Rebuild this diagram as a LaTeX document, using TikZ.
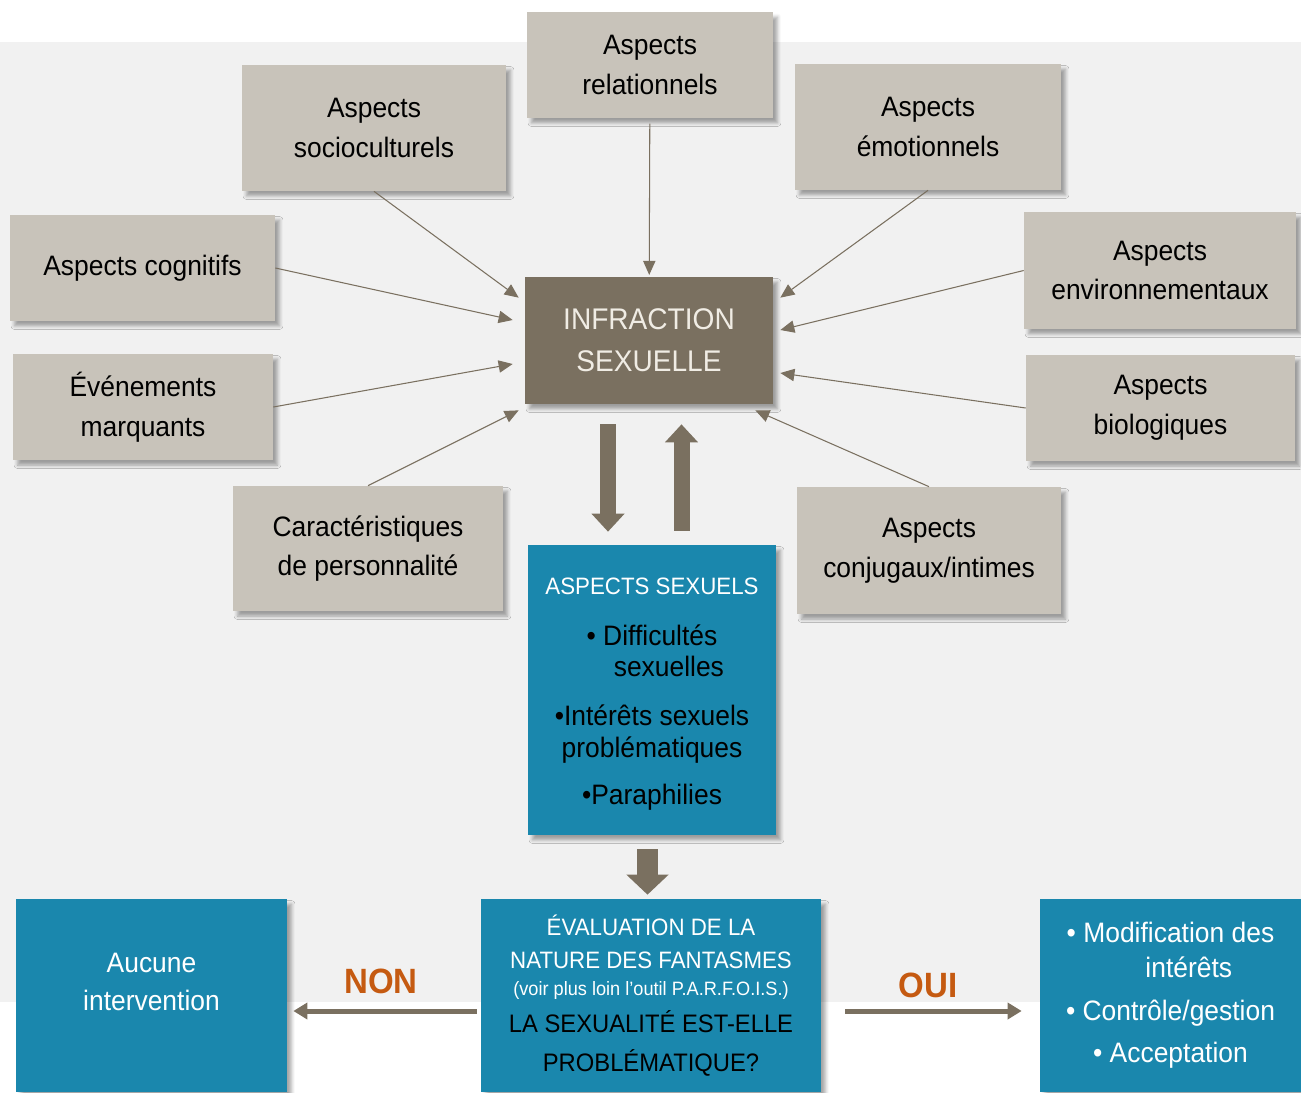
\documentclass[tikz,border=0pt]{standalone}
\usepackage{fontspec}
\setmainfont{Liberation Sans}[FakeStretch=0.94]
\usetikzlibrary{arrows.meta,calc,shadows.blur}

\definecolor{boxtan}{RGB}{200,195,186}
\definecolor{infbrown}{RGB}{122,112,96}
\definecolor{sexblue}{RGB}{26,135,173}
\definecolor{bggrey}{RGB}{241,241,241}
\definecolor{ouinon}{RGB}{197,90,17}
\definecolor{inftext}{RGB}{240,236,228}

\begin{document}
\begin{tikzpicture}[x=0.02cm,y=-0.02cm,
	boxshadow/.style={blur shadow={shadow xshift=0.09cm,shadow yshift=-0.1cm,shadow blur radius=0.07cm,shadow opacity=35}},
	aspect/.style={shape=rectangle,fill=boxtan,inner sep=0pt,align=center,boxshadow,
		font=\fontsize{16}{22.7}\selectfont},
	bluebox/.style={shape=rectangle,fill=sexblue,inner sep=0pt,align=center,boxshadow},
	feeder/.style={draw=infbrown,line width=0.6pt,-{Triangle[length=8pt,width=7pt]}},
	bigarrow/.style={draw=infbrown,line width=0.32cm,-{Triangle[length=0.36cm,width=0.64cm]}},
	sidearrow/.style={draw=infbrown,line width=0.1cm,-{Triangle[length=0.28cm,width=0.32cm]}},
	answer/.style={text=ouinon,font=\fontsize{20}{24}\selectfont\bfseries}
]
	\useasboundingbox (0,0) rectangle (1301,1092);
	\fill[bggrey] (0,42) rectangle (1301,1002);

	% les aspects autour de l'infraction
	\node[aspect,minimum width=4.92cm,minimum height=2.12cm] (rel) at (650,65) {Aspects\\relationnels};
	\node[aspect,minimum width=5.28cm,minimum height=2.52cm] (soc) at (374,128) {Aspects\\socioculturels};
	\node[aspect,minimum width=5.32cm,minimum height=2.52cm] (emo) at (928,127) {Aspects\\émotionnels};
	\node[aspect,minimum width=5.30cm,minimum height=2.12cm] (cog) at (142.5,268) {Aspects cognitifs};
	\node[aspect,minimum width=5.44cm,minimum height=2.34cm] (env) at (1160,270.5) {Aspects\\environnementaux};
	\node[aspect,minimum width=5.20cm,minimum height=2.12cm] (eve) at (143,407) {Événements\\marquants};
	\node[aspect,minimum width=5.38cm,minimum height=2.12cm] (bio) at (1160.5,408) {Aspects\\biologiques};
	\node[aspect,minimum width=5.40cm,minimum height=2.50cm] (car) at (368,548.5) {Caractéristiques\\de personnalité};
	\node[aspect,minimum width=5.28cm,minimum height=2.54cm] (conj) at (929,550.5) {Aspects\\conjugaux/intimes};

	\node[shape=rectangle,fill=infbrown,inner sep=0pt,align=center,boxshadow,text=inftext,
		font=\fontsize{17}{23.8}\selectfont,minimum width=4.96cm,minimum height=2.54cm] (inf) at (649,340.5) {INFRACTION\\SEXUELLE};

	\node[bluebox,minimum width=4.96cm,minimum height=5.80cm,font=\fontsize{16}{18}\selectfont] (sex) at (652,690)
		{\rule{0pt}{14pt}{\color{white}\fontsize{13.5}{16}\selectfont ASPECTS SEXUELS}\\[10.9pt]
		 \textbullet\ Difficultés\\ \hspace*{1.2em}sexuelles\\[9.8pt]
		 \textbullet Intérêts sexuels\\ problématiques\\[8.6pt]
		 \textbullet Paraphilies};

	\node[bluebox,minimum width=6.80cm,minimum height=3.86cm,font=\fontsize{14}{16}\selectfont] (eval) at (651,995.5)
		{{\color{white}\fontsize{13.5}{16}\selectfont ÉVALUATION DE LA}\\[2.7pt]
		 {\color{white}\fontsize{13.5}{16}\selectfont NATURE DES FANTASMES}\\[-0.7pt]
		 {\color{white}\fontsize{11}{13}\selectfont (voir plus loin l’outil P.A.R.F.O.I.S.)}\\[5pt]
		 {\fontsize{14.4}{16}\selectfont LA SEXUALITÉ EST-ELLE}\\[6.1pt]
		 {\fontsize{14.4}{16}\selectfont PROBLÉMATIQUE?}};

	\node[bluebox,minimum width=5.42cm,minimum height=3.86cm,text=white,font=\fontsize{16}{21.5}\selectfont] (auc) at (151.5,995.5)
		{Aucune\\intervention\\[-6pt]\mbox{}};

	\node[bluebox,minimum width=5.22cm,minimum height=3.86cm,text=white,font=\fontsize{16}{19.8}\selectfont] (mod) at (1170.5,995.5)
		{\textbullet\ Modification des\\ \hspace*{1.3em}intérêts\\[4.4pt]
		 \textbullet\ Contrôle/gestion\\[4.4pt]
		 \textbullet\ Acceptation};

	% extrémités des flèches fines
	\coordinate (tsoc) at ($(inf.north west)+(-6,21)$);
	\coordinate (tcog) at ($(inf.west)+(-12,-20.5)$);
	\coordinate (teve) at ($(inf.west)+(-12,23.5)$);
	\coordinate (tcar) at ($(inf.south west)+(-6,6)$);
	\coordinate (temo) at ($(inf.north east)+(7,21)$);
	\coordinate (tenv) at ($(inf.east)+(7,-10.5)$);
	\coordinate (tbio) at ($(inf.east)+(7,32.5)$);
	\coordinate (tconj) at ($(inf.south east)+(-18,6)$);

	\draw[feeder,shorten <=3pt,shorten >=1pt] (rel) -- (inf);
	\draw[feeder] (soc.south) -- (tsoc);
	\draw[feeder] (cog.east) -- (tcog);
	\draw[feeder] (eve.east) -- (teve);
	\draw[feeder] (car.north) -- (tcar);
	\draw[feeder] (emo.south) -- (temo);
	\draw[feeder] (env.west) -- (tenv);
	\draw[feeder] (bio.west) -- (tbio);
	\draw[feeder] (conj.north) -- (tconj);

	% grosses flèches
	\draw[bigarrow,shorten <=0.4cm,shorten >=0.26cm] ([xshift=-0.82cm]inf.south) -- ([xshift=-0.82cm]inf.south |- sex.north);
	\draw[bigarrow,shorten <=0.28cm,shorten >=0.4cm] ([xshift=0.65cm]inf.south |- sex.north) -- ([xshift=0.65cm]inf.south);
	\draw[draw=infbrown,line width=0.42cm,-{Triangle[length=0.4cm,width=0.82cm]},shorten <=0.28cm,shorten >=0.08cm]
		([xshift=-0.09cm]sex.south) -- ([xshift=-0.09cm]sex.south |- eval.north);

	% oui / non
	\draw[sidearrow,shorten <=0.08cm,shorten >=0.12cm] ([yshift=-0.31cm]eval.west) -- ([yshift=-0.31cm]eval.west -| auc.east);
	\draw[sidearrow,shorten <=0.48cm,shorten >=0.36cm] ([yshift=-0.31cm]eval.east) -- ([yshift=-0.31cm]eval.east -| mod.west);
	\node[answer] (non) at (381,981) {NON};
	\node[answer] (oui) at (928,985) {OUI};
\end{tikzpicture}
\end{document}
